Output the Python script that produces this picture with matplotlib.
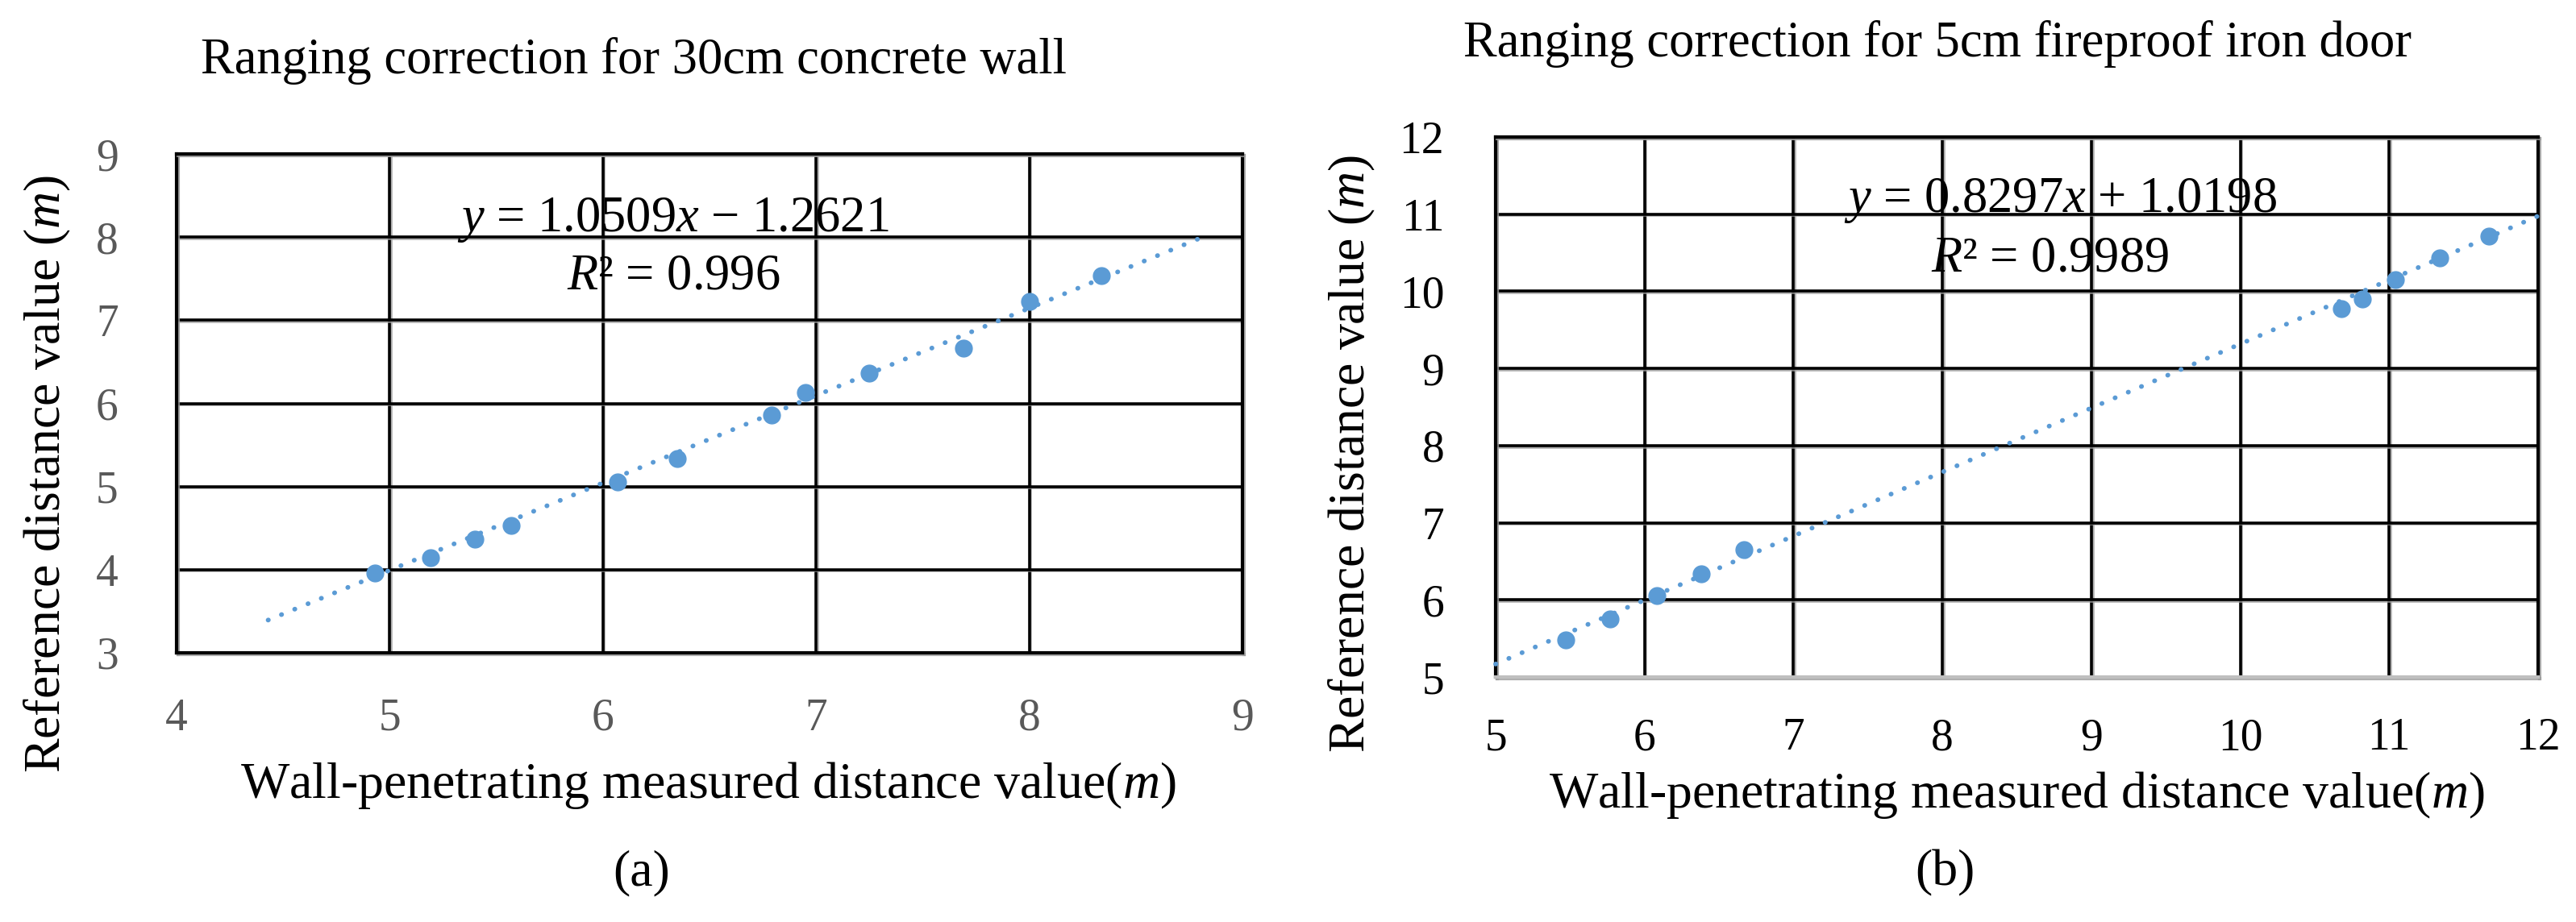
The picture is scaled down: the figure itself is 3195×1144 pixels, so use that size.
import numpy as np
import matplotlib
matplotlib.use("Agg")
from matplotlib import pyplot as plt
import matplotlib.patheffects as pe

plt.rcParams['font.family'] = ['Liberation Serif', 'DejaVu Serif']
plt.rcParams['mathtext.fontset'] = 'custom'
plt.rcParams['mathtext.rm'] = 'Liberation Serif'
plt.rcParams['mathtext.it'] = 'Liberation Serif:italic'

# (a) 30cm concrete wall
x_a = [4.93, 5.19, 5.40, 5.57, 6.07, 6.35, 6.79, 6.95, 7.25, 7.69, 8.00, 8.34]
y_a = [3.96, 4.14, 4.37, 4.53, 5.05, 5.34, 5.86, 6.13, 6.36, 6.66, 7.23, 7.54]
slope_a, icpt_a = 1.0509, -1.2621
r2_a = "0.996"
trend_a = [4.43, 8.84]

# (b) 5cm fireproof iron door
x_b = [5.47, 5.77, 6.08, 6.38, 6.67, 10.68, 10.82, 11.04, 11.34, 11.67]
y_b = [5.48, 5.75, 6.06, 6.34, 6.65, 9.77, 9.90, 10.15, 10.43, 10.71]
slope_b, icpt_b = 0.8297, 1.0198
r2_b = "0.9989"
trend_b = [5.0, 12.0]

BLUE = '#5B9BD5'
shadow = [pe.SimpleLineShadow(offset=(1.2, -1.2), shadow_color='#9a9a9a', alpha=0.8), pe.Normal()]

fig = plt.figure(figsize=(31.95, 11.44), dpi=100)
ax1 = fig.add_axes([0.0685, 0.2920, 0.4138, 0.5410])
ax2 = fig.add_axes([0.5806, 0.2657, 0.4047, 0.5857])


def draw(ax, xs, ys, slope, icpt, trend, xlim, ylim, tick_color):
    ax.plot(xs, ys, 'o', color=BLUE, markersize=15, zorder=4, clip_on=False)
    tx = np.array(trend)
    ax.plot(tx, slope * tx + icpt, color=BLUE, lw=4.2, linestyle=(0, (0.05, 3.0)),
            dash_capstyle='round', zorder=3, clip_on=False)
    ax.set_xlim(*xlim)
    ax.set_ylim(*ylim)
    ax.set_xticks(range(xlim[0], xlim[1] + 1))
    ax.set_yticks(range(ylim[0], ylim[1] + 1))
    ax.grid(True, color='black', lw=2.6, path_effects=shadow, zorder=1)
    ax.set_axisbelow(True)
    for s in ax.spines.values():
        s.set_linewidth(3)
        s.set_color('black')
        s.set_path_effects(shadow)
    ax.tick_params(length=0, labelsize=40, colors=tick_color)


draw(ax1, x_a, y_a, slope_a, icpt_a, trend_a, (4, 9), (3, 9), '#595959')
ax1.tick_params(axis='x', pad=40)
ax1.tick_params(axis='y', pad=52)

draw(ax2, x_b, y_b, slope_b, icpt_b, trend_b, (5, 12), (5, 12), 'black')
ax2.spines['bottom'].set_color('#bfbfbf')
ax2.tick_params(axis='x', pad=36)
ax2.tick_params(axis='y', pad=46)

# equations
ax1.text(6.33, 8.07, "$y$ = %.4f$x$ \u2212 %.4f" % (slope_a, -icpt_a), fontsize=45,
         ha='center', va='baseline', zorder=5)
ax1.text(6.33, 7.38, "$R$\u00b2 = " + r2_a, fontsize=45, ha='center', va='baseline', zorder=5)
ax2.text(8.79, 11.03, "$y$ = %.4f$x$ + %.4f" % (slope_b, icpt_b), fontsize=45,
         ha='center', va='baseline', zorder=5)
ax2.text(8.72, 10.26, "$R$\u00b2 = " + r2_b, fontsize=45, ha='center', va='baseline', zorder=5)

# titles and labels
fig.text(0.246, 0.934, "Ranging correction for 30cm concrete wall", fontsize=45,
         ha='center', va='center')
fig.text(0.752, 0.952, "Ranging correction for 5cm fireproof iron door", fontsize=45,
         ha='center', va='center')
fig.text(0.275, 0.148, "Wall-penetrating measured distance value($m$)", fontsize=46,
         ha='center', va='center')
fig.text(0.783, 0.138, "Wall-penetrating measured distance value($m$)", fontsize=46,
         ha='center', va='center')
fig.text(0.0185, 0.486, "Reference distance value ($m$)", fontsize=46, rotation=90,
         ha='center', va='center')
fig.text(0.525, 0.508, "Reference distance value ($m$)", fontsize=46, rotation=90,
         ha='center', va='center')
fig.text(0.249, 0.053, "(a)", fontsize=46, ha='center', va='center')
fig.text(0.755, 0.053, "(b)", fontsize=46, ha='center', va='center')

fig.savefig('out.png', dpi=100)
